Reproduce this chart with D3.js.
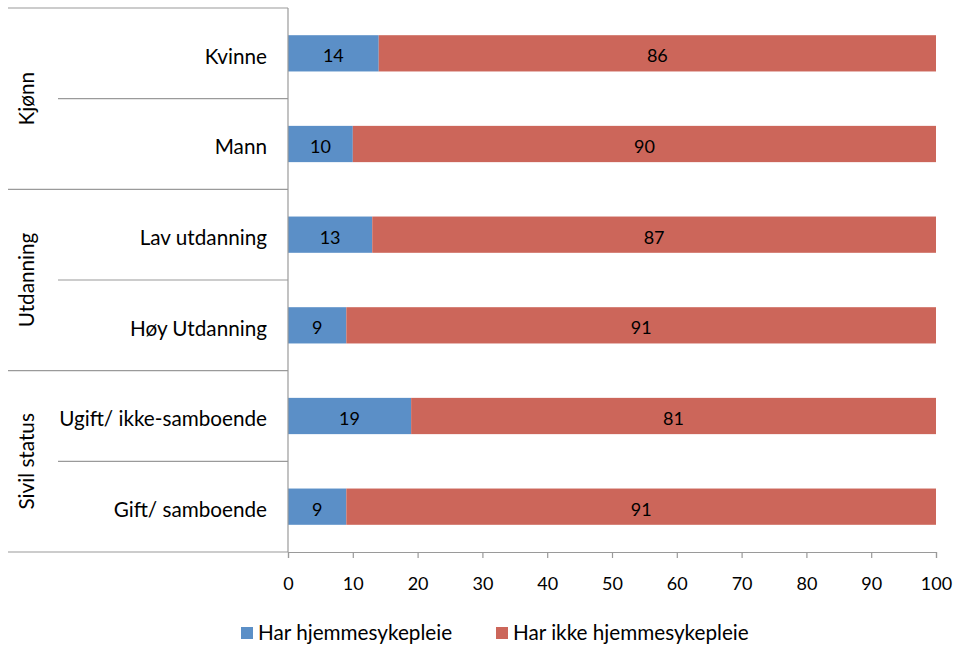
<!DOCTYPE html>
<html>
<head>
<meta charset="utf-8">
<script src="https://cdn.jsdelivr.net/npm/d3@7"></script>
<style>
  html, body { margin: 0; padding: 0; background: #fff; }
  svg { display: block; font-family: Lato, "Open Sans", sans-serif; }
</style>
</head>
<body>
<svg id="chart" width="955" height="646"></svg>
<script>
// Categories (top to bottom) with their grouping
const categories = ["Kvinne", "Mann", "Lav utdanning", "Høy Utdanning", "Ugift/ ikke-samboende", "Gift/ samboende"];
const groups = ["Kjønn", "Kjønn", "Utdanning", "Utdanning", "Sivil status", "Sivil status"];
const groupNames = ["Kjønn", "Utdanning", "Sivil status"];

// Percentages per series
const harValues = [14, 10, 13, 9, 19, 9];
const ikkeValues = [86, 90, 87, 91, 81, 91];
const seriesNames = ["Har hjemmesykepleie", "Har ikke hjemmesykepleie"];
const xTicks = [0, 10, 20, 30, 40, 50, 60, 70, 80, 90, 100];

const colors = ["#5B8FC7", "#CC665A"];
const gridColor = "#9a9a9a";
const textFont = 20.7, digitFont = 18;

const svg = d3.select("#chart");
const plotLeft = 288, plotRight = 936, plotTop = 8, plotBottom = 552, outerLeft = 8, subLeft = 58;

const x = d3.scaleLinear().domain([0, 100]).range([plotLeft, plotRight]);
const y = d3.scaleBand().domain(categories).range([plotTop, plotBottom]).paddingInner(0.6).paddingOuter(0.3);
const band = d3.scaleBand().domain(categories).range([plotTop, plotBottom]);

const rows = categories.map((c, i) => ({ cat: c, group: groups[i], vals: [harValues[i], ikkeValues[i]] }));

// Stacked bars
const stack = d3.stack().keys([0, 1]).value((d, k) => d.vals[k]);
const layers = stack(rows);
layers.forEach((layer, k) => {
  const g = svg.append("g");
  g.selectAll("rect").data(layer).join("rect")
    .attr("x", d => x(d[0]))
    .attr("width", d => x(d[1]) - x(d[0]))
    .attr("y", d => y(d.data.cat))
    .attr("height", y.bandwidth())
    .attr("fill", colors[k]);
  g.selectAll("text").data(layer).join("text")
    .attr("x", d => (x(d[0]) + x(d[1])) / 2)
    .attr("y", d => y(d.data.cat) + y.bandwidth() / 2 + 2.5)
    .attr("dy", "0.36em")
    .attr("text-anchor", "middle")
    .attr("font-size", digitFont)
    .attr("fill", "#000")
    .text(d => d.data.vals[k]);
});

// Category labels
svg.append("g").selectAll("text").data(categories).join("text")
  .attr("x", 267)
  .attr("y", d => band(d) + band.bandwidth() / 2 + 3)
  .attr("dy", "0.36em")
  .attr("text-anchor", "end")
  .attr("font-size", textFont)
  .attr("fill", "#000")
  .text(d => d);

// Separator lines for the hierarchical axis
const lines = svg.append("g").attr("stroke", gridColor).attr("stroke-width", 1.2);
const groupBounds = groupNames.map(gn => {
  const cats = categories.filter((c, i) => groups[i] === gn);
  return { name: gn, y0: band(cats[0]), y1: band(cats[cats.length - 1]) + band.bandwidth(), cats };
});
lines.append("line").attr("x1", outerLeft).attr("x2", plotLeft).attr("y1", plotTop).attr("y2", plotTop);
groupBounds.forEach(g => {
  lines.append("line").attr("x1", outerLeft).attr("x2", plotLeft).attr("y1", g.y1).attr("y2", g.y1);
  g.cats.slice(0, -1).forEach(c => {
    const yy = band(c) + band.bandwidth();
    lines.append("line").attr("x1", subLeft).attr("x2", plotLeft).attr("y1", yy).attr("y2", yy);
  });
});
lines.append("line").attr("x1", plotLeft).attr("x2", plotLeft).attr("y1", plotTop).attr("y2", plotBottom);

// Group labels (rotated)
svg.append("g").selectAll("text").data(groupBounds).join("text")
  .attr("transform", d => `translate(27,${(d.y0 + d.y1) / 2}) rotate(-90)`)
  .attr("dy", "0.36em")
  .attr("text-anchor", "middle")
  .attr("font-size", textFont)
  .attr("fill", "#000")
  .text(d => d.name);

// X axis
const xAxis = svg.append("g")
  .attr("transform", `translate(0,${plotBottom})`)
  .call(d3.axisBottom(x).tickValues(xTicks).tickSize(6).tickPadding(19.5).tickFormat(d3.format("d")));
xAxis.select(".domain").attr("stroke", gridColor).attr("stroke-width", 1.2);
xAxis.selectAll(".tick line").attr("stroke", gridColor).attr("stroke-width", 1.2);
xAxis.selectAll(".tick text").attr("font-size", digitFont).attr("fill", "#000")
  .attr("font-family", "Lato, 'Open Sans', sans-serif");

// Legend
const legendItems = [{ name: seriesNames[0], color: colors[0], x: 241 }, { name: seriesNames[1], color: colors[1], x: 496 }];
const legend = svg.append("g").selectAll("g").data(legendItems).join("g")
  .attr("transform", d => `translate(${d.x},627)`);
legend.append("rect").attr("width", 12).attr("height", 12).attr("fill", d => d.color);
legend.append("text").attr("x", 17).attr("y", 6).attr("dy", "0.36em")
  .attr("font-size", textFont).attr("fill", "#000").text(d => d.name);
</script>
</body>
</html>
